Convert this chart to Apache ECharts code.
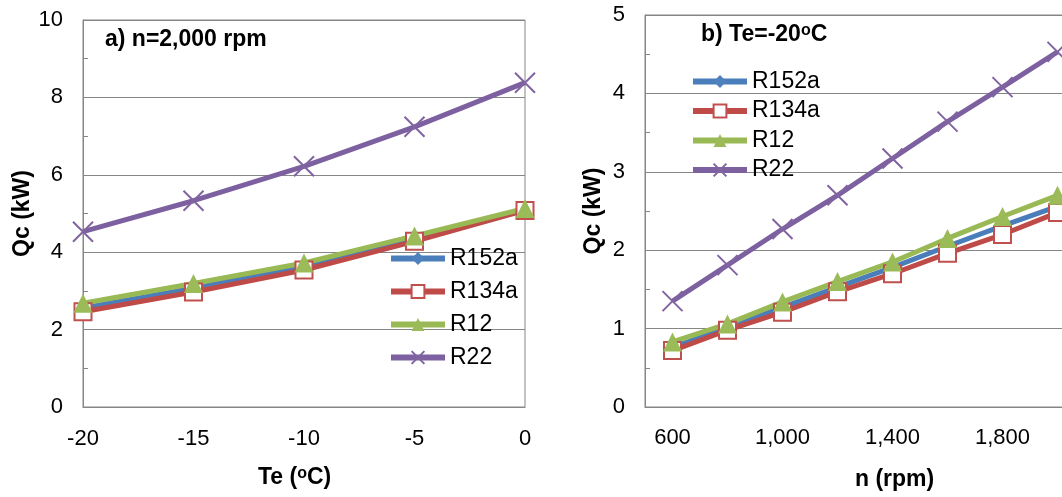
<!DOCTYPE html>
<html>
<head>
<meta charset="utf-8">
<script src="https://cdn.jsdelivr.net/npm/echarts@6/dist/echarts.min.js"></script>
<style>
  html, body { margin: 0; padding: 0; background: #fff; overflow: hidden; }
  #chart { width: 1062px; height: 497px; }
</style>
</head>
<body>
<div id="chart"></div>
<script>
// Panel a): cooling capacity vs evaporating temperature at n = 2,000 rpm
const teValues = [-20, -15, -10, -5, 0];
const qcTeR152a = [2.56, 3.07, 3.64, 4.35, 5.12];
const qcTeR134a = [2.46, 2.97, 3.54, 4.28, 5.08];
const qcTeR12   = [2.68, 3.19, 3.72, 4.42, 5.13];
const qcTeR22   = [4.53, 5.33, 6.22, 7.24, 8.38];

// Panel b): cooling capacity vs compressor speed at Te = -20 °C
const rpmValues = [600, 800, 1000, 1200, 1400, 1600, 1800, 2000];
const qcNR152a = [0.76, 1.01, 1.27, 1.53, 1.78, 2.05, 2.31, 2.56];
const qcNR134a = [0.72, 0.98, 1.21, 1.47, 1.70, 1.96, 2.20, 2.48];
const qcNR12   = [0.83, 1.06, 1.34, 1.60, 1.85, 2.15, 2.43, 2.70];
const qcNR22   = [1.35, 1.81, 2.27, 2.70, 3.17, 3.64, 4.08, 4.53];

const refrigerants = ['R152a', 'R134a', 'R12', 'R22'];

const FONT = "'Liberation Sans', Arial, sans-serif";
const AXIS_GRAY = '#868686';

// Marker and line styling for each refrigerant
const styles = {
  R152a: { color: '#4A7EBB', symbol: 'diamond', symbolSize: 11,
           itemStyle: { color: '#4F81BD' } },
  R134a: { color: '#BE4B48', symbol: 'rect', symbolSize: 17,
           itemStyle: { color: '#ffffff', borderColor: '#C0504D', borderWidth: 2 } },
  R12:   { color: '#98B954', symbol: 'triangle', symbolSize: 19,
           itemStyle: { color: '#9BBB59' } },
  R22:   { color: '#7D60A0', symbol: 'path://M0 0L10 10M10 0L0 10', symbolSize: 20,
           itemStyle: { color: '#8064A2', borderColor: '#8064A2', borderWidth: 2 } }
};

function makeSeries(name, data, axisIndex) {
  const s = styles[name];
  return {
    name: name,
    type: 'line',
    xAxisIndex: axisIndex,
    yAxisIndex: axisIndex,
    data: data,
    symbol: s.symbol,
    symbolSize: s.symbolSize,
    showAllSymbol: true,
    lineStyle: { color: s.color, width: 5 },
    itemStyle: s.itemStyle,
    emphasis: { disabled: true },
    animation: false
  };
}

const teData = {
  R152a: teValues.map((t, i) => [t, qcTeR152a[i]]),
  R134a: teValues.map((t, i) => [t, qcTeR134a[i]]),
  R12:   teValues.map((t, i) => [t, qcTeR12[i]]),
  R22:   teValues.map((t, i) => [t, qcTeR22[i]])
};
const nData = { R152a: qcNR152a, R134a: qcNR134a, R12: qcNR12, R22: qcNR22 };

const labelStyle = { color: '#000', fontSize: 22, fontFamily: FONT };
const supRich = {
  sup: { fontSize: 16, fontWeight: 'bold', fontFamily: FONT, color: '#000', verticalAlign: 'top' }
};
const boldText = { color: '#000', fontSize: 23, fontWeight: 'bold', fontFamily: FONT, rich: supRich };

function yAxisFor(gridIndex, max, interval, nameGap) {
  return {
    gridIndex: gridIndex, type: 'value', position: 'left', min: 0, max: max, interval: interval,
    name: 'Qc (kW)', nameLocation: 'middle', nameGap: nameGap, nameRotate: 90,
    nameTextStyle: { color: '#000', fontSize: 23, fontWeight: 'bold', fontFamily: FONT },
    axisLine: { show: true, onZero: false, lineStyle: { color: AXIS_GRAY, width: 1 } },
    axisTick: { show: true, inside: true, length: 5, lineStyle: { color: AXIS_GRAY } },
    minorTick: { show: true, splitNumber: 2, length: 5, lineStyle: { color: AXIS_GRAY } },
    splitLine: { show: true, lineStyle: { color: AXIS_GRAY, width: 1 } },
    axisLabel: Object.assign({ margin: 20 }, labelStyle)
  };
}

function legendAt(left, top, gap) {
  return {
    data: refrigerants, orient: 'vertical', left: left, top: top,
    padding: 0, itemGap: gap, itemWidth: 54, itemHeight: 16,
    lineStyle: { width: 6 },
    textStyle: { color: '#000', fontSize: 23, fontFamily: FONT },
    selectedMode: false
  };
}

const option = {
  backgroundColor: '#fff',
  animation: false,
  title: [
    { text: 'a) n=2,000 rpm', left: 105, top: 28, padding: 0, textStyle: boldText },
    { text: 'b) Te=-20{sup|o}C', left: 701, top: 23, padding: 0, textStyle: boldText },
    { text: 'Te ({sup|o}C)', left: 258, top: 466, padding: 0, textStyle: boldText },
    { text: 'n (rpm)', left: 855, top: 468, padding: 0, textStyle: boldText }
  ],
  legend: [ legendAt(388, 247, 10), legendAt(690, 70, 6.5) ],
  grid: [
    { left: 83, top: 20, width: 442, bottom: 90, outerBoundsMode: 'none',
      show: true, borderColor: AXIS_GRAY, borderWidth: 1, backgroundColor: 'transparent' },
    { left: 645, top: 15, width: 440, bottom: 90, outerBoundsMode: 'none',
      show: true, borderColor: AXIS_GRAY, borderWidth: 1, backgroundColor: 'transparent' }
  ],
  xAxis: [
    {
      gridIndex: 0, type: 'value', position: 'bottom', min: -20, max: 0, interval: 5,
      axisLine: { show: true, onZero: false, lineStyle: { color: AXIS_GRAY } },
      axisTick: { show: false },
      splitLine: { show: false },
      axisLabel: Object.assign({ margin: 21 }, labelStyle)
    },
    {
      gridIndex: 1, type: 'category', position: 'bottom', data: rpmValues, boundaryGap: true,
      axisLine: { show: true, onZero: false, lineStyle: { color: AXIS_GRAY } },
      axisTick: { show: false },
      splitLine: { show: false },
      axisLabel: Object.assign({
        margin: 20, interval: 1,
        formatter: v => Number(v).toLocaleString('en-US')
      }, labelStyle)
    }
  ],
  yAxis: [ yAxisFor(0, 10, 2, 49), yAxisFor(1, 5, 1, 40) ],
  series: [
    ...refrigerants.map(n => makeSeries(n, teData[n], 0)),
    ...refrigerants.map(n => makeSeries(n, nData[n], 1))
  ]
};

const chart = echarts.init(document.getElementById('chart'), null, { renderer: 'canvas' });
chart.setOption(option);
</script>
</body>
</html>
